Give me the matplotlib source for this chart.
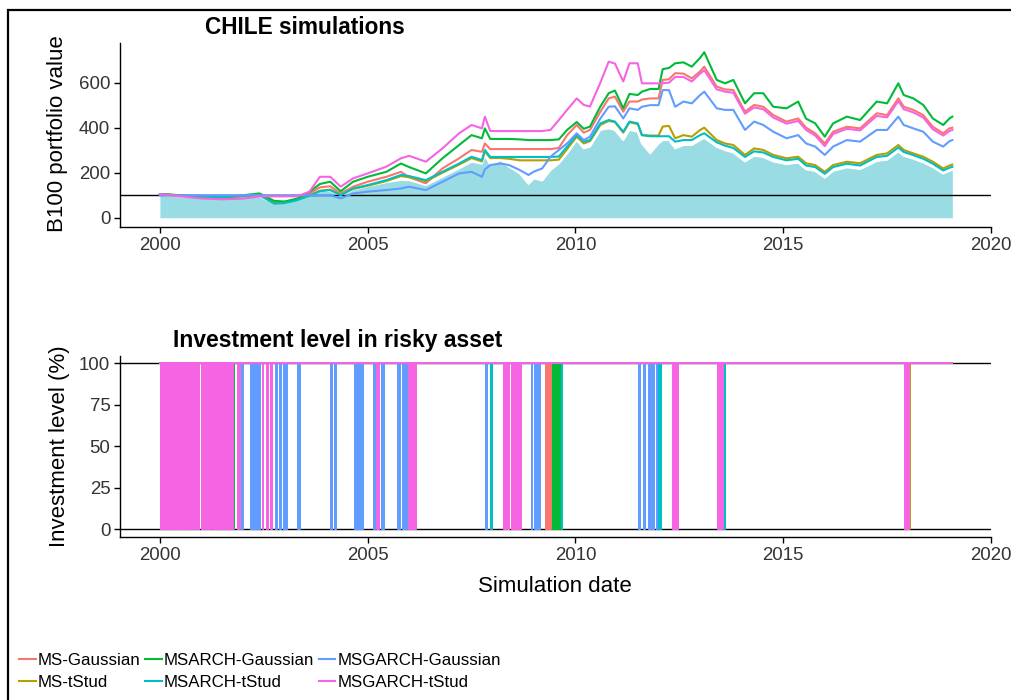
import matplotlib
matplotlib.use("Agg")
import matplotlib.pyplot as plt
from matplotlib.patches import Rectangle

plt.rcParams['font.family'] = ['Liberation Sans', 'DejaVu Sans']

# simulation dates (decimal years)
dates = [2000.0, 2000.5, 2001.0, 2001.5, 2002.0, 2002.4, 2002.75, 2003.0, 2003.3, 2003.6,
         2003.85, 2004.1, 2004.35, 2004.65, 2005.0, 2005.45, 2005.8, 2006.0, 2006.4, 2006.8,
         2007.2, 2007.5, 2007.75, 2007.82, 2007.95, 2008.2, 2008.4, 2008.66, 2008.87, 2009.0,
         2009.2, 2009.4, 2009.6, 2009.8, 2010.03, 2010.2, 2010.35, 2010.6, 2010.8, 2010.95,
         2011.15, 2011.3, 2011.5, 2011.6, 2011.8, 2012.0, 2012.1, 2012.25, 2012.4, 2012.6,
         2012.8, 2013.0, 2013.1, 2013.4, 2013.6, 2013.8, 2014.08, 2014.3, 2014.52, 2014.76,
         2015.08, 2015.36, 2015.55, 2015.77, 2016.0, 2016.2, 2016.53, 2016.85, 2017.25, 2017.5,
         2017.77, 2017.9, 2018.13, 2018.37, 2018.6, 2018.85, 2019.0, 2019.07]

ms_gauss = [105, 98, 88, 85, 95, 100, 73, 70, 82, 108,
            135, 140, 108, 138, 160, 182, 204, 180, 153, 219,
            264, 301, 293, 330, 305, 305, 305, 305, 305, 305,
            305, 305, 310, 367, 412, 378, 390, 471, 530, 538,
            471, 516, 516, 525, 530, 530, 612, 615, 642, 640,
            619, 650, 671, 582, 570, 567, 471, 501, 493, 456,
            427, 441, 400, 375, 330, 382, 404, 397, 464, 456,
            530, 493, 479, 456, 404, 375, 397, 400]

ms_tstud = [105, 100, 96, 93, 98, 102, 68, 70, 80, 100,
            120, 125, 102, 128, 142, 163, 185, 180, 162, 200,
            236, 265, 250, 295, 265, 265, 262, 255, 255, 255,
            255, 255, 258, 305, 360, 330, 340, 412, 430, 425,
            378, 424, 416, 367, 365, 365, 405, 408, 353, 367,
            360, 390, 400, 345, 330, 323, 279, 308, 301, 279,
            264, 271, 242, 234, 204, 234, 249, 242, 279, 286,
            323, 301, 286, 271, 249, 219, 232, 236]

msarch_gauss = [105, 100, 95, 92, 100, 108, 75, 72, 85, 115,
                150, 160, 118, 160, 182, 204, 241, 225, 197, 264,
                323, 367, 353, 397, 350, 350, 350, 348, 345, 345,
                345, 345, 348, 390, 425, 395, 405, 494, 553, 565,
                486, 550, 545, 560, 572, 572, 660, 665, 686, 690,
                671, 710, 735, 612, 597, 612, 508, 553, 553, 493,
                486, 516, 440, 419, 360, 419, 449, 434, 516, 508,
                597, 545, 530, 501, 441, 412, 441, 449]

msarch_tstud = [105, 98, 95, 92, 98, 100, 62, 65, 78, 98,
                118, 123, 100, 130, 145, 167, 190, 185, 167, 204,
                241, 271, 256, 301, 270, 270, 270, 270, 270, 270,
                270, 270, 272, 316, 367, 338, 345, 419, 434, 427,
                382, 427, 419, 367, 362, 362, 362, 362, 338, 345,
                345, 367, 375, 335, 320, 310, 270, 295, 290, 270,
                255, 262, 232, 225, 195, 225, 240, 232, 270, 275,
                312, 292, 278, 262, 240, 210, 222, 226]

msgarch_gauss = [100, 100, 100, 100, 100, 100, 100, 100, 100, 100,
                 100, 100, 86, 108, 116, 123, 130, 138, 123, 160,
                 197, 204, 182, 215, 234, 241, 234, 212, 190, 205,
                 219, 271, 301, 330, 375, 345, 360, 441, 493, 495,
                 441, 486, 479, 493, 500, 500, 567, 567, 493, 516,
                 508, 545, 560, 486, 479, 479, 390, 427, 412, 382,
                 353, 367, 330, 316, 279, 316, 345, 338, 390, 390,
                 449, 412, 397, 382, 338, 316, 340, 345]

msgarch_tstud = [105, 95, 86, 82, 85, 95, 95, 95, 95, 116,
                 182, 182, 138, 175, 197, 227, 264, 275, 249, 308,
                 375, 412, 397, 449, 385, 385, 385, 385, 385, 385,
                 385, 390, 434, 479, 530, 501, 494, 600, 693, 685,
                 605, 686, 686, 597, 597, 597, 597, 600, 625, 625,
                 605, 640, 655, 570, 560, 555, 462, 490, 482, 445,
                 418, 430, 390, 365, 318, 372, 395, 388, 452, 446,
                 518, 482, 468, 445, 393, 365, 385, 390]

benchmark = [100, 95, 90, 88, 95, 95, 62, 66, 80, 100,
             118, 120, 98, 125, 140, 158, 168, 167, 145, 182,
             219, 249, 240, 279, 234, 256, 227, 197, 150, 175,
             165, 212, 241, 286, 345, 308, 316, 390, 397, 390,
             345, 390, 382, 330, 286, 330, 345, 345, 308, 323,
             323, 345, 355, 315, 300, 290, 250, 275, 270, 250,
             238, 245, 215, 208, 178, 208, 224, 216, 252, 258,
             295, 275, 262, 246, 225, 196, 208, 212]

# periods out of the risky asset (investment level 0)
out_ms_gauss = [(2009.05, 2009.12), (2009.27, 2009.42)]
out_ms_tstud = [(2018.04, 2018.06)]
out_msarch_gauss = [(2001.75, 2001.78), (2009.43, 2009.63)]
out_msarch_tstud = [(2000.0, 2000.01), (2007.94, 2007.98), (2009.66, 2009.68),
                    (2011.98, 2012.07), (2013.57, 2013.59)]
out_msgarch_gauss = [(2000.4, 2000.5), (2001.95, 2002.0), (2002.17, 2002.4), (2002.77, 2002.82),
                     (2002.87, 2002.91), (2002.96, 2003.05), (2003.3, 2003.36), (2004.09, 2004.13),
                     (2004.18, 2004.24), (2004.66, 2004.89), (2005.13, 2005.17), (2005.32, 2005.4),
                     (2005.7, 2005.78), (2005.82, 2005.95), (2007.82, 2007.86), (2008.93, 2008.96),
                     (2009.0, 2009.15), (2011.51, 2011.56), (2011.62, 2011.67), (2011.74, 2011.9),
                     (2011.93, 2011.97)]
out_msgarch_tstud = [(2000.0, 2000.95), (2000.99, 2001.22), (2001.26, 2001.76), (2001.85, 2001.93),
                     (2002.45, 2002.49), (2002.56, 2002.6), (2002.66, 2002.7), (2005.2, 2005.27),
                     (2005.98, 2006.16), (2008.26, 2008.41), (2008.45, 2008.7), (2012.32, 2012.46),
                     (2013.4, 2013.56), (2017.9, 2018.03)]
sim_start, sim_end = 2000.0, 2019.05

names = ['MS-Gaussian', 'MS-tStud', 'MSARCH-Gaussian', 'MSARCH-tStud',
         'MSGARCH-Gaussian', 'MSGARCH-tStud']
colors = ['#F8766D', '#B79F00', '#00BA38', '#00BFC4', '#619CFF', '#F564E3']
values = [ms_gauss, ms_tstud, msarch_gauss, msarch_tstud, msgarch_gauss, msgarch_tstud]
outs = [out_ms_gauss, out_ms_tstud, out_msarch_gauss, out_msarch_tstud,
        out_msgarch_gauss, out_msgarch_tstud]

W, H = 1012, 700
fig = plt.figure(figsize=(W / 100, H / 100), dpi=100)
ax1 = fig.add_axes([120 / W, 1 - 227 / H, 871 / W, 184 / H])
ax2 = fig.add_axes([120 / W, 1 - 537.3 / H, 871 / W, 181.3 / H])

for ax in (ax1, ax2):
    for s in ('top', 'right'):
        ax.spines[s].set_visible(False)
    for s in ('left', 'bottom'):
        ax.spines[s].set_linewidth(1.0)
    ax.tick_params(length=4, width=1.0, labelsize=13.4, labelcolor='#333333', pad=3)
    ax.set_xlim(1999.04, 2020)
    ax.set_xticks([2000, 2005, 2010, 2015, 2020])

# top panel
ax1.fill_between(dates, 0, benchmark, color='#9ADCE3', lw=0, zorder=1)
ax1.plot(dates, benchmark, color='white', lw=1.4, zorder=2)
ax1.axhline(100, color='black', lw=1.0, zorder=3)
handles = []
for name, col, v in zip(names, colors, values):
    h, = ax1.plot(dates, v, color=col, lw=1.5, label=name, zorder=4)
    handles.append(h)
ax1.set_ylim(-41, 776)
ax1.set_yticks([0, 200, 400, 600])

# bottom panel
ax2.axhline(0, color='black', lw=1.0, zorder=1)
ax2.axhline(100, color='black', lw=1.0, zorder=1)
for col, spans in zip(colors, outs):
    starts = [s for s, e in spans]
    widths = [e - s for s, e in spans]
    ax2.bar(starts, [100] * len(spans), width=widths, bottom=0, align='edge',
            color=col, edgecolor=col, lw=0.7, zorder=2)
    ax2.plot([sim_start, sim_end], [100, 100], color=col, lw=1.4, zorder=3)
ax2.set_ylim(-4.8, 104.4)
ax2.set_yticks([0, 25, 50, 75, 100])

# titles and labels
fig.text(205 / W, 1 - 28 / H, 'CHILE simulations', fontsize=16.3, fontweight='bold',
         ha='left', va='center')
fig.text(173 / W, 1 - 341 / H, 'Investment level in risky asset', fontsize=16.5,
         fontweight='bold', ha='left', va='center')
fig.text(58 / W, 1 - 134 / H, 'B100 portfolio value', fontsize=16, rotation=90,
         ha='center', va='center')
fig.text(60 / W, 1 - 446 / H, 'Investment level (%)', fontsize=16, rotation=90,
         ha='center', va='center')
fig.text(555 / W, 1 - 587 / H, 'Simulation date', fontsize=16, ha='center', va='center')

fig.legend(handles, names, ncol=3, loc='upper left', bbox_to_anchor=(19 / W, 1 - 653 / H),
           frameon=False, fontsize=12.2, handlelength=1.0, handletextpad=0.12,
           columnspacing=0.25, labelspacing=0.42, borderpad=0, borderaxespad=0)

# outer frame
fig.patches.append(Rectangle((8 / W, -0.05), 1.2, 1.05 - 10 / H, transform=fig.transFigure,
                             fill=False, lw=1.6, edgecolor='black'))

fig.savefig('out.png', dpi=100)
